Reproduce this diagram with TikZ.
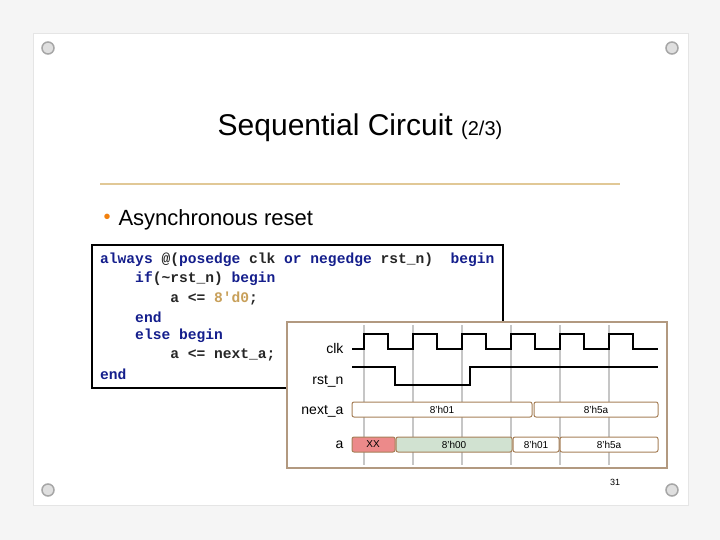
\documentclass[tikz,border=0pt]{standalone}
\usepackage{fontspec}
\setmainfont{Liberation Sans}
\newfontfamily\codefont{Liberation Mono}
\begin{document}
\begin{tikzpicture}[x=1pt,y=-1pt,
  pin/.style={circle,draw=gray!70,fill=gray!25,line width=1.5pt,minimum size=12pt,inner sep=0},
  grid/.style={draw=gray!45,line width=2.5pt},
  wave/.style={line width=2.5pt,line join=miter},
  bus/.style={draw=brown!60!gray,line width=1pt,rounded corners=2pt},
  lab/.style={anchor=east,font=\fontsize{14}{14}\selectfont},
  bl/.style={font=\fontsize{10}{10}\selectfont},
  code/.style={anchor=west,font=\codefont\bfseries\fontsize{14.6}{14.6}\selectfont,text=black!85,inner sep=0}]
\definecolor{kw}{RGB}{20,30,140}
\definecolor{num}{RGB}{200,160,90}
\definecolor{tan}{RGB}{225,200,150}
\fill[gray!8] (0,0) rectangle (720,540);
\useasboundingbox (0,0) rectangle (720,540);
\fill[white,draw=gray!20] (33,33) rectangle (688,505);
\foreach \n/\p in {p1/{(48,48)},p2/{(672,48)},p3/{(48,490)},p4/{(672,490)}} \node[pin] (\n) at \p {};
\node (title) at (360,128) {\fontsize{30}{30}\selectfont Sequential Circuit {\fontsize{20}{20}\selectfont (2/3)}};
\draw[draw=tan,line width=1.2pt] (100,184) -- (620,184);
\node[anchor=west,text=orange!80!brown] (bul) at (100,219) {\fontsize{20}{20}\selectfont\textbullet};
\node[anchor=west] (bt) at (115,220) {\fontsize{22}{22}\selectfont Asynchronous reset};
\draw[line width=1.5pt,fill=white] (92,245) rectangle (503,388);
\node[code] (c1) at (100,260) {\textcolor{kw}{always} @(\textcolor{kw}{posedge} clk \textcolor{kw}{or} \textcolor{kw}{negedge} rst\_n)\ \ \textcolor{kw}{begin}};
\node[code] (c2) at (100,279) {\ \ \ \ \textcolor{kw}{if}(\~{}rst\_n) \textcolor{kw}{begin}};
\node[code] (c3) at (100,298) {\ \ \ \ \ \ \ \ a <= \textcolor{num}{8'd0};};
\node[code] (c4) at (100,317) {\ \ \ \ \textcolor{kw}{end}};
\node[code] (c5) at (100,336) {\ \ \ \ \textcolor{kw}{else} \textcolor{kw}{begin}};
\node[code] (c6) at (100,355) {\ \ \ \ \ \ \ \ a <= next\_a;};
\node[code] (c7) at (100,374) {\textcolor{kw}{end}};
\draw[draw=brown!50!gray!80,line width=2pt,fill=white] (287,322) rectangle (667,468);
\foreach \x in {364,413,462,511,560,609} \draw[grid] (\x,325) -- (\x,465);
\draw[wave] (352,349) -- (364,349) -- (364,334) -- (388,334) -- (388,349) -- (413,349) -- (413,334) -- (437,334) -- (437,349) -- (462,349) -- (462,334) -- (486,334) -- (486,349) -- (511,349) -- (511,334) -- (535,334) -- (535,349) -- (560,349) -- (560,334) -- (584,334) -- (584,349) -- (609,349) -- (609,334) -- (633,334) -- (633,349) -- (658,349);
\draw[wave] (352,367) -- (395,367) -- (395,385) -- (470,385) -- (470,367) -- (658,367);
\node[lab] (lclk) at (347,348) {clk};
\node[lab] (lrst) at (347,381) {rst\_n};
\node[lab] (lna) at (347,411) {next\_a};
\node[lab] (la) at (347,445) {a};
\draw[bus,fill=white] (352,402) rectangle (532,417);
\draw[bus,fill=white] (534,402) rectangle (658,417);
\node[bl] at (442,409.5) {8'h01};
\node[bl] at (596,409.5) {8'h5a};
\draw[bus,fill=red!45!white!85!gray] (352,437) rectangle (395,452);
\draw[bus,fill=gray!30!green!12!white!80!gray] (396,437) rectangle (512,452);
\draw[bus,fill=white] (513,437) rectangle (559,452);
\draw[bus,fill=white] (560,437) rectangle (658,452);
\node[bl] at (373,444.5) {XX};
\node[bl] at (454,444.5) {8'h00};
\node[bl] at (536,444.5) {8'h01};
\node[bl] at (609,444.5) {8'h5a};
\node (pg) at (615,482) {\fontsize{9}{9}\selectfont 31};
\end{tikzpicture}
\end{document}
